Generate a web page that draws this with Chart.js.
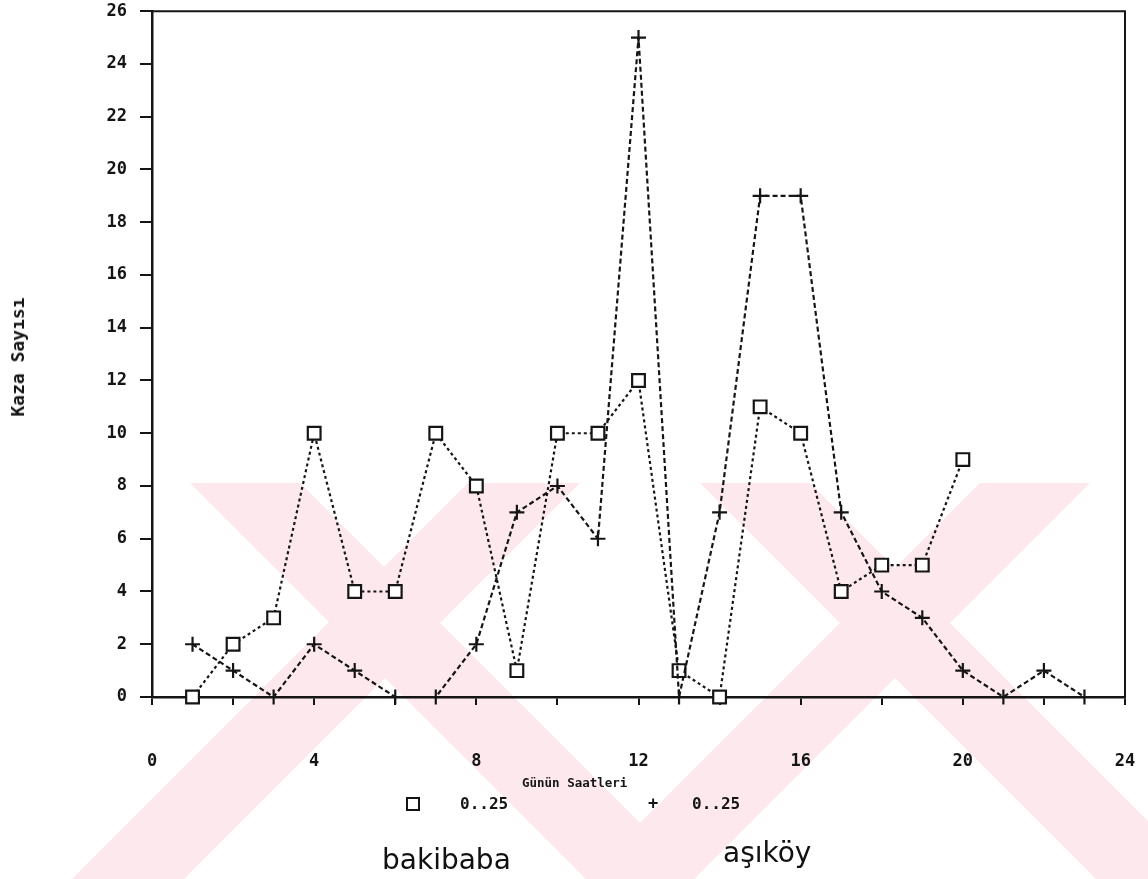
<!DOCTYPE html>
<html><head><meta charset="utf-8">
<script src="https://cdn.jsdelivr.net/npm/chart.js@4.4.1/dist/chart.umd.min.js"></script>
<style>
html,body{margin:0;padding:0;background:#fff;}
#wrap{position:relative;width:1148px;height:879px;overflow:hidden;}
canvas{position:absolute;left:0;top:0;}
.t{position:absolute;font-family:"DejaVu Sans Mono",monospace;font-weight:bold;color:#151515;white-space:nowrap;line-height:1;}
.big{position:absolute;font-family:"DejaVu Sans",sans-serif;color:#111;white-space:nowrap;line-height:1;font-size:28px;}
.box{position:absolute;width:10px;height:10px;border:2px solid #151515;}
</style></head><body>
<div id="wrap">
<canvas id="c" width="1148" height="879" style="width:1148px;height:879px;"></canvas>
<div class="t" style="left:522px;top:777px;font-size:12.5px;">Günün Saatleri</div>
<div class="box" style="left:406px;top:797px;"></div>
<div class="t" style="left:460px;top:796px;font-size:16px;">0..25</div>
<div class="t" style="left:648px;top:795px;font-size:17px;">+</div>
<div class="t" style="left:692px;top:796px;font-size:16px;">0..25</div>
<div class="big" style="left:382px;top:846px;">bakibaba</div>
<div class="big" style="left:723px;top:839px;">aşıköy</div>
<div class="t" style="left:18px;top:357px;font-size:18px;transform:translate(-50%,-50%) rotate(-90deg);">Kaza Sayısı</div>
</div>
<script>
// ---- data ----
const hoursBakibaba = [1,2,3,4,5,6,7,8,9,10,11,12,13,14,15,16,17,18,19,20];
const valuesBakibaba = [0,2,3,10,4,4,10,8,1,10,10,12,1,0,11,10,4,5,5,9];
const hoursAsikoy = [1,2,3,4,5,6,7,8,9,10,11,12,13,14,15,16,17,18,19,20,21,22,23];
const valuesAsikoy = [2,1,0,2,1,0,0,2,7,8,6,25,0,7,19,19,7,4,3,1,0,1,0];
const xTickLabels = [0,4,8,12,16,20,24];
const yMin = 0, yMax = 26, yStep = 2;
const xMin = 0, xMax = 24, xStep = 2;
const seriesNames = ['bakibaba','aşıköy'];

const INK = '#151515';
const toPts = (xs, ys) => xs.map((x, i) => ({x: x, y: ys[i]}));

const watermark = {
  id: 'watermark',
  beforeDraw(chart) {
    const ctx = chart.ctx;
    ctx.save();
    ctx.fillStyle = '#fde9ed';
    const polys = [
      [[190,483],[300,483],[696,879],[586,879]],
      [[468,483],[580,483],[184,879],[72,879]],
      [[700,483],[810,483],[1206,879],[1096,879]],
      [[980,483],[1090,483],[694,879],[584,879]]
    ];
    polys.forEach(p => {
      ctx.beginPath();
      ctx.moveTo(p[0][0], p[0][1]);
      for (let i = 1; i < p.length; i++) ctx.lineTo(p[i][0], p[i][1]);
      ctx.closePath();
      ctx.fill();
    });
    ctx.restore();
  }
};

const frame = {
  id: 'frame',
  beforeDatasetsDraw(chart) {
    const a = chart.chartArea, ctx = chart.ctx;
    ctx.save();
    ctx.strokeStyle = INK;
    ctx.lineWidth = 2;
    ctx.beginPath();
    ctx.moveTo(a.left, a.top);
    ctx.lineTo(a.right, a.top);
    ctx.lineTo(a.right, a.bottom);
    ctx.stroke();
    ctx.restore();
  }
};

new Chart(document.getElementById('c'), {
  type: 'line',
  data: {
    datasets: [
      {
        label: seriesNames[1],
        data: toPts(hoursAsikoy, valuesAsikoy),
        borderColor: INK, borderWidth: 2.2, borderDash: [5,3],
        pointStyle: 'cross', pointRadius: 7.5, pointBorderWidth: 2.2,
        pointBorderColor: INK, tension: 0, clip: false, fill: false
      },
      {
        label: seriesNames[0],
        data: toPts(hoursBakibaba, valuesBakibaba),
        borderColor: INK, borderWidth: 2.2, borderDash: [3,3],
        pointStyle: 'rect', pointRadius: 9, pointBorderWidth: 2.2,
        pointBorderColor: INK, pointBackgroundColor: '#fff',
        tension: 0, clip: false, fill: false
      }
    ]
  },
  options: {
    responsive: false,
    animation: false,
    events: [],
    layout: {padding: {top: 10, right: 23, left: 0, bottom: 0}},
    plugins: {legend: {display: false}, tooltip: {enabled: false}},
    scales: {
      x: {
        type: 'linear', min: xMin, max: xMax,
        afterFit(s) { s.height = 182; s.paddingLeft = 0; s.paddingRight = 0; },
        ticks: {
          stepSize: xStep, autoSkip: false, maxRotation: 0, padding: 46,
          color: INK, font: {family: 'DejaVu Sans Mono', weight: 'bold', size: 17},
          callback: v => xTickLabels.includes(v) ? String(v) : ''
        },
        grid: {drawOnChartArea: false, drawTicks: true, tickLength: 8, color: INK, lineWidth: 2},
        border: {display: true, color: INK, width: 2.5}
      },
      y: {
        type: 'linear', min: yMin, max: yMax,
        afterFit(s) { s.width = 152; s.paddingTop = 0; s.paddingBottom = 0; },
        ticks: {
          stepSize: yStep, autoSkip: false, padding: 13,
          color: INK, font: {family: 'DejaVu Sans Mono', weight: 'bold', size: 17}
        },
        grid: {drawOnChartArea: false, drawTicks: true, tickLength: 12, color: INK, lineWidth: 2},
        border: {display: true, color: INK, width: 2.5}
      }
    }
  },
  plugins: [watermark, frame]
});
</script>
</body></html>
